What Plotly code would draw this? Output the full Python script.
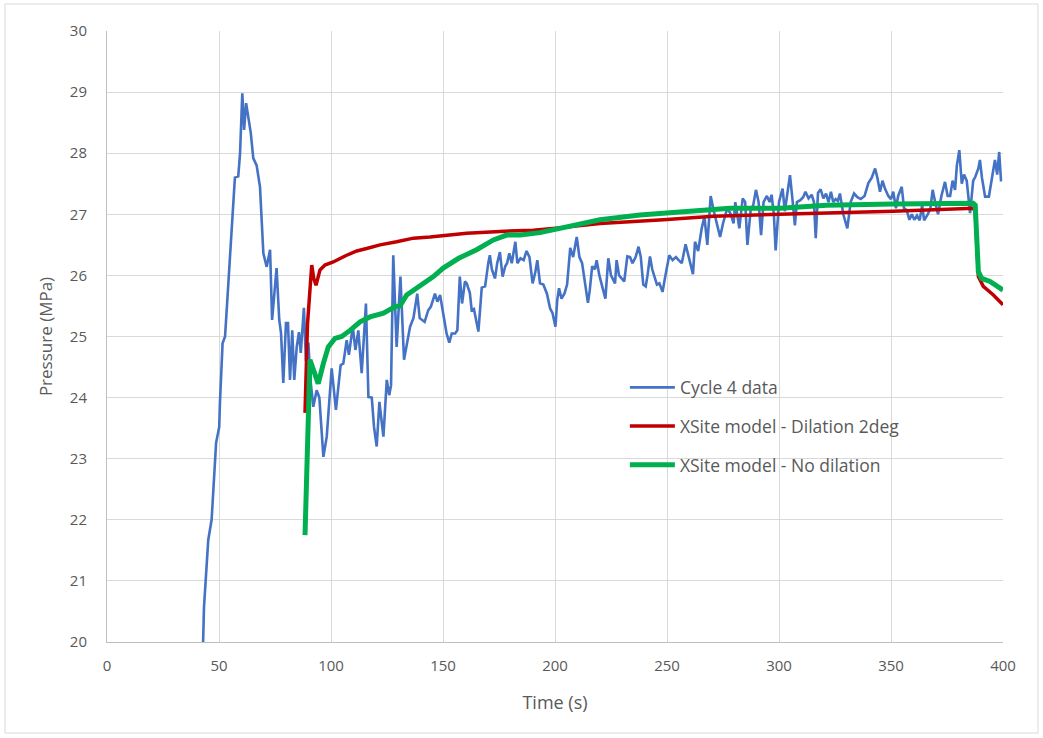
import plotly.graph_objects as go

# ---- Cycle 4 data (blue) ----
cycle_t = [42.9, 43.3, 45.2, 46.7, 48.7, 50.1, 50.4, 51.6, 52.7, 55.7, 57.1, 58.6, 59.4, 60.4, 61.2, 62.1,
           62.9, 64.2, 65.3, 66.8, 68.3, 69.8, 71.3, 72.8, 73.7, 74.6, 75.7, 76.9, 77.7, 78.7, 79.9, 80.8,
           81.7, 82.7, 83.6, 84.7, 85.7, 86.5, 87.9, 88.8, 89.9, 90.8, 92.1, 93.6, 94.8, 96.6, 98.1, 100.3,
           102.2, 104.3, 105.5, 107.0, 108.0, 109.7, 110.9, 112.2, 113.7, 115.6, 116.7, 118.2, 119.2, 120.4,
           121.6, 123.4, 124.9, 126.0, 126.8, 127.8, 129.3, 131.0, 132.6, 134.0, 135.3, 136.8, 138.5, 139.6,
           140.5, 141.8, 143.4, 144.6, 146.4, 147.5, 148.7, 150.1, 151.6, 152.8, 153.9, 155.4, 156.4, 157.5,
           158.5, 159.8, 160.6, 162.0, 162.8, 163.8, 165.8, 167.3, 168.8, 170.2, 170.9, 171.8, 173.2, 174.2,
           175.4, 176.6, 177.8, 178.6, 179.6, 180.7, 182.3, 183.2, 184.6, 186.0, 187.3, 188.6, 190.0, 191.2,
           192.1, 193.3, 194.8, 196.4, 197.8, 198.9, 200.2, 201.0, 201.8, 202.9, 204.2, 205.4, 206.8, 208.1,
           209.7, 210.9, 212.1, 212.9, 214.7, 215.5, 216.6, 217.8, 218.6, 219.8, 220.8, 222.5, 223.8, 225.0,
           226.8, 227.5, 228.6, 229.8, 230.9, 232.3, 233.5, 234.6, 236.0, 237.3, 238.3, 239.4, 240.5, 241.3,
           242.4, 243.4, 244.4, 245.5, 246.6, 248.0, 249.3, 251.0, 252.5, 254.0, 255.2, 256.6, 258.3, 259.8,
           261.6, 262.5, 263.9, 265.5, 266.7, 268.0, 269.5, 270.9, 272.3, 273.7, 275.0, 276.9, 278.5, 279.7,
           280.5, 282.3, 283.8, 284.9, 285.9, 287.3, 288.5, 289.7, 290.9, 292.0, 293.1, 294.6, 295.8, 296.7,
           297.7, 298.5, 300.0, 301.6, 302.6, 303.6, 304.9, 306.0, 307.1, 308.0, 309.5, 310.8, 311.8, 313.2,
           314.6, 315.6, 316.4, 317.4, 318.6, 319.8, 321.0, 322.1, 323.2, 324.2, 325.3, 326.3, 327.2, 328.7,
           330.5, 332.0, 333.5, 335.0, 336.5, 338.2, 339.9, 341.4, 342.9, 343.9, 345.1, 346.2, 347.3, 348.8,
           350.0, 351.0, 352.2, 353.2, 354.8, 355.8, 357.0, 358.2, 359.3, 360.4, 361.6, 362.8, 363.9, 364.8,
           366.4, 367.6, 368.6, 370.0, 371.0, 372.5, 374.1, 375.3, 376.4, 377.5, 378.6, 379.4, 380.5, 381.6,
           382.6, 383.8, 385.3, 386.7, 387.6, 389.0, 389.7, 390.6, 392.0, 393.7, 395.2, 396.4, 397.4, 398.3,
           399.1, 399.6]
cycle_p = [20.0, 20.57, 21.67, 22.0, 23.26, 23.52, 23.9, 24.89, 25.0, 26.9, 27.6, 27.62, 28.0, 28.98, 28.38, 28.82,
           28.6, 28.33, 27.92, 27.8, 27.45, 26.36, 26.14, 26.42, 25.27, 25.71, 26.12, 25.27, 25.05, 24.24, 25.22, 25.22,
           24.29, 25.1, 24.29, 24.83, 25.07, 24.73, 25.47, 24.6, 24.9, 24.3, 23.85, 24.12, 24.0, 23.03, 23.36, 24.48,
           23.8, 24.53, 24.56, 24.94, 24.7, 25.16, 24.78, 25.1, 24.4, 25.54, 24.01, 24.0, 23.52, 23.2,
           23.93, 23.36, 24.29, 24.04, 24.2, 26.33, 24.83, 25.98, 24.62, 24.9, 25.16, 25.3, 25.7, 25.3,
           25.27, 25.24, 25.43, 25.49, 25.7, 25.57, 25.68, 25.35, 25.05, 24.9, 25.05, 25.05, 25.1, 25.98,
           25.54, 25.9, 25.87, 25.71, 25.43, 25.45, 25.08, 25.8, 25.82, 26.2, 26.33, 26.1, 25.95, 26.2,
           26.38, 25.98, 26.15, 26.2, 26.36, 26.2, 26.55, 26.2, 26.28, 26.25, 26.4, 26.3, 25.87, 26.05,
           26.25, 25.87, 25.85, 25.7, 25.46, 25.38, 25.16, 25.6, 25.79, 25.62, 25.7, 25.85, 26.45, 26.3,
           26.63, 26.3, 26.2, 26.0, 25.55, 25.75, 26.15, 26.1, 26.25, 26.0, 25.87, 25.62, 26.28, 26.0,
           25.87, 26.25, 26.0, 25.95, 25.9, 26.31, 26.3, 26.2, 26.3, 26.47, 26.3, 25.85, 25.82, 26.0,
           26.31, 26.1, 25.98, 25.85, 25.87, 25.73, 26.0, 26.33, 26.25, 26.3, 26.25, 26.2, 26.51, 26.3,
           26.02, 26.55, 26.4, 26.77, 26.96, 26.5, 27.3, 27.05, 26.85, 26.63, 26.85, 27.1, 27.0, 26.85,
           27.2, 26.77, 27.26, 27.2, 26.5, 27.05, 27.15, 27.4, 27.2, 26.66, 27.2, 27.3, 27.2, 27.32,
           27.0, 26.41, 27.2, 27.42, 27.05, 27.3, 27.64, 27.25, 26.82, 27.2, 27.23, 27.28, 27.37, 27.26,
           27.32, 27.2, 26.61, 27.35, 27.41, 27.26, 27.34, 27.2, 27.37, 27.2, 27.25, 27.22, 27.34, 27.0,
           26.77, 27.2, 27.34, 27.28, 27.25, 27.3, 27.51, 27.6, 27.75, 27.6, 27.37, 27.55, 27.42, 27.3,
           27.25, 27.37, 27.1, 27.3, 27.45, 27.1, 27.07, 26.91, 27.0, 26.91, 26.98, 26.9, 27.15, 26.9,
           27.0, 27.1, 27.4, 27.15, 27.0, 27.3, 27.53, 27.3, 27.3, 27.55, 27.4, 27.8, 28.05, 27.5,
           27.65, 27.55, 27.02, 27.55, 27.61, 27.75, 27.89, 27.6, 27.29, 27.29, 27.65, 27.89, 27.65, 28.02,
           27.56, 27.56]

# ---- XSite model - Dilation 2deg (red) ----
dil_t = [88.4, 89.5, 91.4, 92.3, 93.3, 95.1, 97.3, 101.0, 107.0, 111.5, 115.9, 121.9, 129.3, 136.8,
         144.2, 151.6, 160.6, 175.4, 190.3, 205.2, 220.1, 248.4, 270.7, 300.4, 321.3, 351.0, 386.7,
         387.6, 389.0, 391.2, 395.7, 400.0]
dil_p = [23.75, 25.2, 26.17, 25.95, 25.84, 26.09, 26.17, 26.22, 26.33, 26.40, 26.44, 26.50, 26.55, 26.61,
         26.63, 26.66, 26.69, 26.72, 26.74, 26.79, 26.85, 26.91, 26.97, 27.00, 27.02, 27.05, 27.10,
         27.05, 25.98, 25.82, 25.68, 25.52]

# ---- XSite model - No dilation (green) ----
nod_t = [88.4, 89.6, 90.6, 92.2, 94.3, 96.6, 98.8, 101.8, 104.8, 108.5, 113.0, 117.4, 123.4, 128.6,
         130.8, 133.8, 139.7, 145.7, 150.1, 155.4, 157.0, 165.0, 172.5, 178.4, 184.4, 193.3, 202.2,
         211.2, 220.1, 237.9, 255.8, 278.1, 300.4, 321.3, 351.0, 386.7, 387.6, 389.0, 390.5, 394.2, 400.0]
nod_p = [21.75, 23.3, 24.62, 24.45, 24.23, 24.56, 24.83, 24.97, 25.00, 25.10, 25.24, 25.32, 25.38, 25.49,
         25.50, 25.68, 25.82, 25.98, 26.12, 26.25, 26.28, 26.42, 26.58, 26.66, 26.66, 26.70, 26.77,
         26.84, 26.91, 26.99, 27.04, 27.10, 27.10, 27.15, 27.17, 27.18, 27.15, 26.06, 25.95, 25.90, 25.76]

x_ticks = [0, 50, 100, 150, 200, 250, 300, 350, 400]
y_ticks = [20, 21, 22, 23, 24, 25, 26, 27, 28, 29, 30]

FONT = "'Open Sans', Lato, sans-serif"
GREY = "#595959"

fig = go.Figure()
fig.add_trace(go.Scatter(x=cycle_t, y=cycle_p, mode="lines", name="Cycle 4 data",
                         line=dict(color="#4472C4", width=2.6), legendgroup="a"))
fig.add_trace(go.Scatter(x=dil_t, y=dil_p, mode="lines", name="XSite model - Dilation 2deg",
                         line=dict(color="#C00000", width=3.5), legendgroup="b"))
fig.add_trace(go.Scatter(x=nod_t, y=nod_p, mode="lines", name="XSite model - No dilation",
                         line=dict(color="#00B050", width=5), legendgroup="c"))

# chart border (Excel chart area outline)
fig.add_shape(type="rect", xref="paper", yref="paper",
              x0=(5 - 107) / 896, x1=(1038 - 107) / 896,
              y0=(642 - 733) / 611, y1=(642 - 4) / 611,
              line=dict(color="#D9D9D9", width=1), fillcolor="rgba(0,0,0,0)", layer="below")

fig.update_layout(
    width=1043, height=738,
    margin=dict(l=107, r=40, t=31, b=96),
    paper_bgcolor="white", plot_bgcolor="white",
    font=dict(family=FONT, size=16, color=GREY),
    showlegend=True,
    legend=dict(x=0.578, y=0.446, xanchor="left", yanchor="top",
                bgcolor="rgba(0,0,0,0)", tracegroupgap=13,
                font=dict(family=FONT, size=17.5, color=GREY),
                traceorder="grouped", itemwidth=45),
    xaxis=dict(range=[0, 400], tickvals=x_ticks, showgrid=True, gridcolor="#D9D9D9", gridwidth=1,
               showline=True, linecolor="#BFBFBF", linewidth=1, zeroline=False,
               ticks="", ticklabelstandoff=10,
               title=dict(text="Time (s)", font=dict(family=FONT, size=18, color=GREY), standoff=22),
               tickfont=dict(family=FONT, size=15, color=GREY)),
    yaxis=dict(range=[20, 30], tickvals=y_ticks, showgrid=True, gridcolor="#D9D9D9", gridwidth=1,
               showline=True, linecolor="#BFBFBF", linewidth=1, zeroline=False,
               ticks="", ticklabelstandoff=16,
               title=dict(text="Pressure (MPa)", font=dict(family=FONT, size=17, color=GREY), standoff=12),
               tickfont=dict(family=FONT, size=15, color=GREY)),
)

fig.write_html("out.html")
